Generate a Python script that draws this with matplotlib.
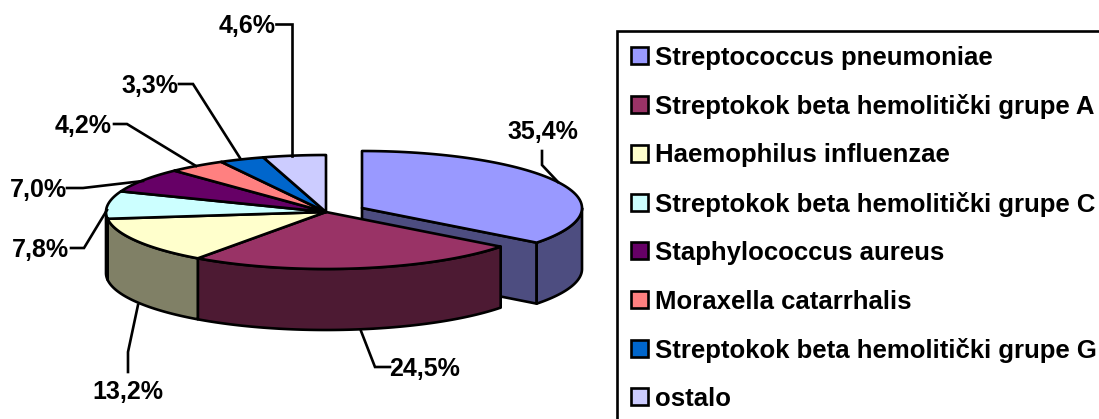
import matplotlib
matplotlib.use('Agg')
import matplotlib.pyplot as plt
from matplotlib.patches import Rectangle
import numpy as np

plt.rcParams['font.family'] = ['Liberation Sans', 'DejaVu Sans']

names = ['Streptococcus pneumoniae', 'Streptokok beta hemolitički grupe A', 'Haemophilus influenzae',
         'Streptokok beta hemolitički grupe C', 'Staphylococcus aureus', 'Moraxella catarrhalis',
         'Streptokok beta hemolitički grupe G', 'ostalo']
values = [35.4, 24.5, 13.2, 7.8, 7.0, 4.2, 3.3, 4.6]
value_labels = ['35,4%', '24,5%', '13,2%', '7,8%', '7,0%', '4,2%', '3,3%', '4,6%']
top_colors = ['#9999FF', '#993366', '#FFFFCC', '#CCFFFF', '#660066', '#FF8080', '#0066CC', '#CCCCFF']
side_colors = ['#4D4D80', '#4D1A33', '#808066', '#668080', '#330033', '#804040', '#003366', '#666680']

# pie geometry in image pixels
cx, cy = 326, 212
rx, ry = 220, 57
depth = 61
explode = [(36, -4), (0, 0), (0, 0), (0, 0), (0, 0), (0, 0), (0, 0), (0, 0)]
lw = 1.9

# label centre, then leader line points
label_pos = [(543, 132), (425, 369), (128, 392), (40, 250), (38, 190), (83, 126), (150, 86), (247, 26)]
leaders = [[(542, 151), (542, 165), (558, 182)],
           [(390, 367), (375, 367), (361, 331)],
           [(128, 372), (128, 352), (138, 305)],
           [(71, 248), (84, 248), (107, 210)],
           [(67, 188), (83, 188), (143, 181)],
           [(114, 124), (127, 124), (196, 166)],
           [(179, 84), (193, 84), (240, 158)],
           [(276, 24), (292, 24), (292, 156)]]

fig = plt.figure(figsize=(10.99, 4.19), dpi=100)
ax = fig.add_axes([0, 0, 1, 1])
ax.set_xlim(0, 1099)
ax.set_ylim(419, 0)
ax.axis('off')


def arc(t0, t1, ox, oy):
    t = np.radians(np.linspace(t0, t1, 80))
    return cx + ox + rx * np.sin(t), cy + oy - ry * np.cos(t)


edges = np.concatenate([[0], np.cumsum(values)]) * 3.6

for i in range(len(values)):
    ox, oy = explode[i]
    t0, t1 = edges[i], edges[i + 1]
    z = 1 if i == 0 else 3
    # cut face of the pulled out slice
    if ox != 0:
        ex, ey = arc(t1, t1, ox, oy)
        ax.fill([cx + ox, ex[0], ex[0], cx + ox], [cy + oy, ey[0], ey[0] + depth, cy + oy + depth],
                fc=side_colors[i], ec='k', lw=lw, joinstyle='round', zorder=z)
    # outer wall, only the part facing us
    a, b = max(t0, 90), min(t1, 270)
    if a < b:
        x, y = arc(a, b, ox, oy)
        ax.fill(np.r_[x, x[::-1]], np.r_[y, y[::-1] + depth],
                fc=side_colors[i], ec='k', lw=lw, joinstyle='round', zorder=z)
    # top face
    x, y = arc(t0, t1, ox, oy)
    ax.fill(np.r_[cx + ox, x], np.r_[cy + oy, y],
            fc=top_colors[i], ec='k', lw=lw, joinstyle='round', zorder=z + 1)

for i in range(len(values)):
    pts = np.array(leaders[i])
    ax.plot(pts[:, 0], pts[:, 1], color='k', lw=lw, zorder=5, solid_joinstyle='miter')
    ax.text(label_pos[i][0], label_pos[i][1], value_labels[i], ha='center', va='center',
            fontsize=18, fontweight='bold', zorder=6)

# legend box runs off the right and bottom of the picture
ax.add_patch(Rectangle((617, 31), 600, 500, fc='white', ec='k', lw=lw, zorder=1))
for i in range(len(names)):
    yc = 56 + i * 48.7
    ax.add_patch(Rectangle((631, yc - 8.5), 17, 17, fc=top_colors[i], ec='k', lw=lw, zorder=2))
    ax.text(655, yc + 2, names[i], ha='left', va='center', fontsize=18.5, fontweight='bold', zorder=3)

fig.savefig('out.png', dpi=100)
